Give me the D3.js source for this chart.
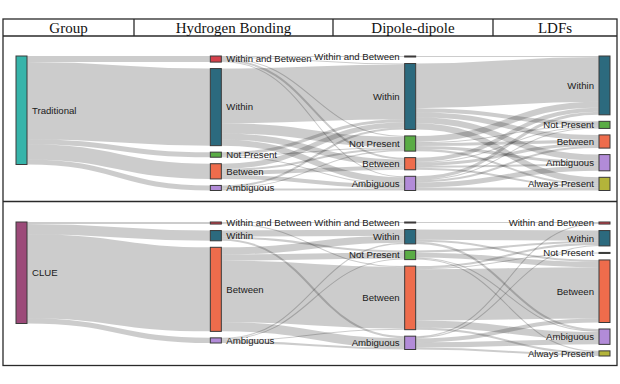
<!DOCTYPE html>
<html><head><meta charset="utf-8">
<script src="https://cdn.jsdelivr.net/npm/d3@7"></script>
<style>body{margin:0;background:#fff}</style>
</head><body><svg id="c" width="620" height="384"></svg>
<script>
// ---------- data ----------
const headers = ["Group", "Hydrogen Bonding", "Dipole-dipole", "LDFs"];

const tradGroup = ["Traditional"];
const tradHB = ["Within and Between", "Within", "Not Present", "Between", "Ambiguous"];
const tradHBValues = [6, 76, 5, 15, 5];
const tradDD = ["Within and Between", "Within", "Not Present", "Between", "Ambiguous"];
const tradLDF = ["Within", "Not Present", "Between", "Ambiguous", "Always Present"];
// rows: HB categories, cols: DD categories
const tradHBtoDD = [
  [1, 1, 1, 2, 1],
  [0, 54, 10, 6, 6],
  [0, 3, 1, 0, 1],
  [0, 5, 2, 4, 4],
  [0, 2, 1, 0, 2]
];
// rows: DD categories, cols: LDF categories
const tradDDtoLDF = [
  [1, 0, 0, 0, 0],
  [44, 4, 5, 6, 6],
  [6, 1, 3, 3, 2],
  [4, 1, 3, 2, 2],
  [3, 1, 2, 5, 3]
];

const clueGroup = ["CLUE"];
const clueHB = ["Within and Between", "Within", "Between", "Ambiguous"];
const clueHBValues = [2, 10, 82, 5];
const clueDD = ["Within and Between", "Within", "Not Present", "Between", "Ambiguous"];
const clueLDF = ["Within and Between", "Within", "Not Present", "Between", "Ambiguous", "Always Present"];
const clueHBtoDD = [
  [1, 0, 0, 1, 0],
  [0, 6, 2, 0, 2],
  [0, 7, 6, 60, 9],
  [0, 1, 1, 1, 2]
];
const clueDDtoLDF = [
  [1, 0, 0, 0, 0, 0],
  [0, 10, 0, 2, 2, 0],
  [0, 2, 0, 5, 1, 1],
  [0, 2, 1, 50, 7, 2],
  [1, 1, 0, 4, 5, 2]
];

const colors = {
  "Traditional": "#36b4aa",
  "CLUE": "#9c4a79",
  "Within and Between": "#d4404b",
  "Within": "#2c6a7e",
  "Not Present": "#5aac45",
  "Between": "#ee6c4c",
  "Ambiguous": "#b28bd8",
  "Always Present": "#b3b43a"
};

// ---------- layout ----------
const svg = d3.select("#c");
const W = 620;
const box = {x0: 3, x1: 617, hy0: 19, hy1: 36, p1: 201.5, p2: 365.5};
const xCol = d3.scaleLinear().domain([0, 3]).range([16, 599]);
const nodeW = 11;
const pad = 6.5;

function buildSankey(cols, groupValues, m1, m2, y0, y1) {
  const nodes = cols.map((names, ci) => names.map(n => ({name: n, col: ci, inL: [], outL: []})));
  const links = [];
  function add(s, t, v) {
    if (v <= 0) return;
    const l = {source: s, target: t, value: v};
    s.outL.push(l); t.inL.push(l); links.push(l);
  }
  groupValues.forEach((v, j) => add(nodes[0][0], nodes[1][j], v));
  m1.forEach((row, i) => row.forEach((v, j) => add(nodes[1][i], nodes[2][j], v)));
  m2.forEach((row, i) => row.forEach((v, j) => add(nodes[2][i], nodes[3][j], v)));
  nodes.flat().forEach(n => {
    n.value = Math.max(d3.sum(n.inL, l => l.value), d3.sum(n.outL, l => l.value));
  });
  const ky = d3.min(nodes, col => (y1 - y0 - (col.length - 1) * pad) / d3.sum(col, n => n.value));
  const h = d3.scaleLinear().domain([0, 1]).range([0, ky]);
  nodes.forEach(col => {
    let y = y0;
    col.forEach(n => {
      n.x0 = xCol(n.col); n.x1 = n.x0 + nodeW;
      n.y0 = y; n.y1 = y + h(n.value);
      y = n.y1 + pad;
    });
  });
  links.forEach(l => l.width = h(l.value));
  nodes.flat().forEach(n => {
    n.outL.sort((a, b) => a.target.y0 - b.target.y0);
    let sy = n.y0;
    n.outL.forEach(l => { l.sy = sy + l.width / 2; sy += l.width; });
    n.inL.sort((a, b) => a.source.y0 - b.source.y0);
    let ty = n.y0;
    n.inL.forEach(l => { l.ty = ty + l.width / 2; ty += l.width; });
  });
  return {nodes: nodes.flat(), links};
}

const linkGen = d3.linkHorizontal()
  .source(d => [d.source.x1, d.sy])
  .target(d => [d.target.x0, d.ty]);

function drawSankey(s) {
  const g = svg.append("g");
  g.append("g").selectAll("path")
    .data(s.links.slice().sort((a, b) => b.width - a.width))
    .join("path")
    .attr("d", linkGen)
    .attr("fill", "none")
    .attr("stroke", "#000")
    .attr("stroke-opacity", 0.2)
    .attr("stroke-width", d => Math.max(1, d.width));
  const ng = g.append("g").selectAll("g").data(s.nodes).join("g");
  ng.append("rect")
    .attr("x", d => d.x0).attr("y", d => d.y0)
    .attr("width", nodeW).attr("height", d => Math.max(1, d.y1 - d.y0))
    .attr("fill", d => colors[d.name])
    .attr("stroke", "#3a3a3a").attr("stroke-width", 1);
  ng.append("text")
    .attr("x", d => d.x0 < W / 2 ? d.x1 + 5 : d.x0 - 5)
    .attr("y", d => (d.y0 + d.y1) / 2)
    .attr("dy", "0.35em")
    .attr("text-anchor", d => d.x0 < W / 2 ? "start" : "end")
    .attr("font-family", "Liberation Sans, Arial, sans-serif")
    .attr("font-size", 9.6)
    .attr("fill", "#1a1a1a")
    .text(d => d.name);
}

drawSankey(buildSankey([tradGroup, tradHB, tradDD, tradLDF], tradHBValues, tradHBtoDD, tradDDtoLDF, 56, 190.5));
drawSankey(buildSankey([clueGroup, clueHB, clueDD, clueLDF], clueHBValues, clueHBtoDD, clueDDtoLDF, 222, 356));

// ---------- frame & header ----------
const frame = svg.append("g").attr("fill", "none").attr("stroke", "#2a2a2a").attr("stroke-width", 1.3);
frame.append("rect").attr("x", box.x0).attr("y", box.hy0).attr("width", box.x1 - box.x0).attr("height", box.p2 - box.hy0);
[box.hy1, box.p1].forEach(y => frame.append("line").attr("x1", box.x0).attr("x2", box.x1).attr("y1", y).attr("y2", y));
const dividers = [box.x0, 134, 333, 493, box.x1];
dividers.slice(1, -1).forEach(x => frame.append("line").attr("x1", x).attr("x2", x).attr("y1", box.hy0).attr("y2", box.hy1));
svg.append("g").selectAll("text").data(headers).join("text")
  .attr("x", (d, i) => (dividers[i] + dividers[i + 1]) / 2)
  .attr("y", (box.hy0 + box.hy1) / 2)
  .attr("dy", "0.35em")
  .attr("text-anchor", "middle")
  .attr("font-family", "Liberation Serif, Times New Roman, serif")
  .attr("font-size", 15)
  .attr("fill", "#111")
  .text(d => d);
</script>
</body></html>
